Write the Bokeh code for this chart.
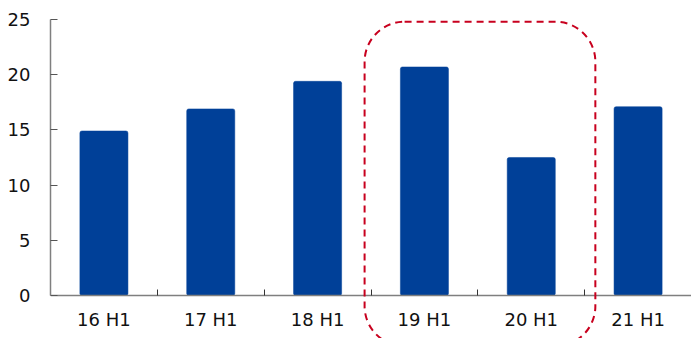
from bokeh.plotting import figure
from bokeh.models import Range1d, FixedTicker, BoxAnnotation, ColumnDataSource
from bokeh.embed import file_html
from bokeh.resources import INLINE

categories = ["16 H1", "17 H1", "18 H1", "19 H1", "20 H1", "21 H1"]
values = [14.9, 16.9, 19.4, 20.7, 12.5, 17.1]
y_ticks = [0, 5, 10, 15, 20, 25]
highlight = ["19 H1", "20 H1"]

n = len(categories)
xs = [i + 0.5 for i in range(n)]
src = ColumnDataSource(dict(x=xs, top=values, cat=categories))

p = figure(width=691, height=338, output_backend="svg", toolbar_location=None,
           x_range=Range1d(0, n), y_range=Range1d(-3.9, 25),
           min_border_left=50, min_border_right=0, min_border_top=19, min_border_bottom=0)
p.outline_line_color = None
p.xgrid.visible = False
p.ygrid.visible = False
p.background_fill_color = "white"
p.border_fill_color = "white"

p.vbar(x="x", top="top", bottom=0, width=0.45, source=src,
       fill_color="#004098", line_color="#004098", line_width=0.5, border_radius=2)

# highlight box around selected categories
i0 = categories.index(highlight[0])
i1 = categories.index(highlight[-1])
box = BoxAnnotation(left=i0 - 0.06, right=i1 + 1.1, top=24.8, bottom=-4.6,
                    fill_alpha=0, fill_color=None,
                    line_color="#c8001e", line_alpha=1.0, line_width=2, line_dash="7 5",
                    border_radius=40)
p.add_layout(box)

font = "DejaVu Sans"
ax = p.xaxis[0]
ax.fixed_location = 0
ax.ticker = FixedTicker(ticks=xs, minor_ticks=list(range(1, n)))
ax.major_label_overrides = {x: c for x, c in zip(xs, categories)}
ax.major_tick_in = 0
ax.major_tick_out = 0
ax.minor_tick_in = 6
ax.minor_tick_out = 0
ax.minor_tick_line_color = "#333333"
ax.axis_line_color = "#7f7f7f"
ax.axis_line_width = 1.5
ax.major_label_text_font = font
ax.major_label_text_font_size = "18px"
ax.major_label_text_color = "#111111"
ax.major_label_standoff = 14

ay = p.yaxis[0]
ay.bounds = (0, 25)
ay.ticker = FixedTicker(ticks=y_ticks, minor_ticks=[])
ay.major_tick_in = 7
ay.major_tick_out = 0
ay.major_tick_line_color = "#555555"
ay.axis_line_color = "#7f7f7f"
ay.axis_line_width = 1.5
ay.major_label_text_font = font
ay.major_label_text_font_size = "18px"
ay.major_label_text_color = "#111111"
ay.major_label_standoff = 20

open("out.html", "w").write(file_html(p, INLINE))
